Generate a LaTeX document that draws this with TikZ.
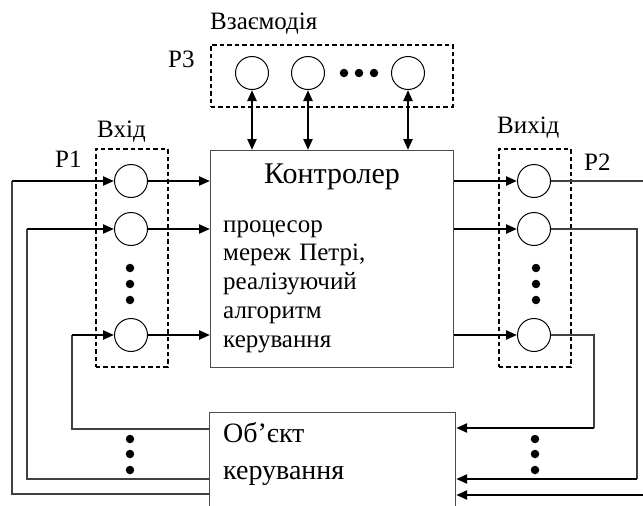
\documentclass[tikz,border=0pt]{standalone}
\usepackage{fontspec}
\setmainfont{Liberation Serif}
\usetikzlibrary{arrows.meta}
\begin{document}
\begin{tikzpicture}[x=1pt,y=-1pt,
  place/.style={circle,draw,line width=1pt,minimum size=33pt,inner sep=0pt},
  thickarrow/.style={line width=2.3pt,-{Triangle[length=11pt,width=9pt]}},
  dblarrow/.style={line width=2.3pt,{Triangle[length=11pt,width=9pt]}-{Triangle[length=11pt,width=9pt]}},
  thinline/.style={line width=1.2pt,draw=black!75},
  groupbox/.style={draw,line width=1.8pt,dash pattern=on 4.5pt off 3pt,inner sep=0pt,anchor=north west},
  blockbox/.style={draw=black!70,line width=1.2pt,inner sep=0pt,anchor=north west},
  lbl/.style={font=\fontsize{25}{28.75}\selectfont,inner sep=0pt,anchor=base west},
  dotmark/.style={circle,fill,inner sep=0pt,minimum size=8.5pt}]
\useasboundingbox (0,0) rectangle (643,506);

% blocks
\node[blockbox,minimum width=243pt,minimum height=217pt] (ctrl) at (210,150) {};
\node[blockbox,minimum width=246pt,minimum height=130pt] (obj) at (209,412) {};

% dashed groups
\node[groupbox,minimum width=72pt,minimum height=218pt] (inbox) at (95,148) {};
\node[groupbox,minimum width=72pt,minimum height=218pt] (outbox) at (498,148) {};
\node[groupbox,minimum width=242pt,minimum height=62pt] (p3box) at (210,44) {};

% places
\node[place] (i1) at (131,181) {};
\node[place] (i2) at (131,229) {};
\node[place] (i3) at (131,335) {};
\node[place] (o1) at (534,181) {};
\node[place] (o2) at (534,229) {};
\node[place] (o3) at (534,335) {};
\node[place] (p1) at (252,73) {};
\node[place] (p2) at (308,73) {};
\node[place] (p3) at (408,73) {};

% dots
\foreach \y [count=\k] in {268,284,300} {
  \node[dotmark] (di\k) at (130,\y) {};
  \node[dotmark] (do\k) at (536,\y) {};
}
\foreach \x [count=\k] in {344,359,374} {
  \node[dotmark] (dp\k) at (\x,73) {};
}
\foreach \y [count=\k] in {439,454,470} {
  \node[dotmark] (dl\k) at (130,\y) {};
  \node[dotmark] (dr\k) at (535,\y) {};
}

% inputs to controller
\draw[thickarrow] (i1) -- (ctrl.west |- i1);
\draw[thickarrow] (i2) -- (ctrl.west |- i2);
\draw[thickarrow] (i3) -- (ctrl.west |- i3);
% controller to outputs
\draw[thickarrow] (ctrl.east |- o1) -- (o1);
\draw[thickarrow] (ctrl.east |- o2) -- (o2);
\draw[thickarrow] (ctrl.east |- o3) -- (o3);
% interaction
\draw[dblarrow] (p1) -- (ctrl.north -| p1);
\draw[dblarrow] (p2) -- (ctrl.north -| p2);
\draw[dblarrow] (p3) -- (ctrl.north -| p3);

% left feedback
\coordinate (l1) at (12,181);  \coordinate (l1b) at (12,494);
\coordinate (l2) at (27,229);  \coordinate (l2b) at (27,479);
\coordinate (l3) at (72,335);  \coordinate (l3b) at (72,429);
\draw[thinline] (obj.west |- l1b) -- (l1b) -- (l1);
\draw[thinline] (obj.west |- l2b) -- (l2b) -- (l2);
\draw[thinline] (obj.west |- l3b) -- (l3b) -- (l3);
\draw[thickarrow] (l1) -- (i1);
\draw[thickarrow] (l2) -- (i2);
\draw[thickarrow] (l3) -- (i3);

% right feedback
\coordinate (r1) at (660,181); \coordinate (r1b) at (660,495);
\coordinate (r2) at (637,229); \coordinate (r2b) at (637,479);
\coordinate (r3) at (594,335); \coordinate (r3b) at (594,428);
\draw[thinline] (o1) -- (r1) -- (r1b);
\draw[thinline] (o2) -- (r2) -- (r2b);
\draw[thinline] (o3) -- (r3) -- (r3b);
\draw[thickarrow] (r1b) -- (obj.east |- r1b);
\draw[thickarrow] (r2b) -- (obj.east |- r2b);
\draw[thickarrow] (r3b) -- (obj.east |- r3b);

% labels
\node[lbl] (tint) at (210,30) {Взаємодія};
\node[lbl] (tp3) at (168,67) {P3};
\node[lbl] (tin) at (97,137) {Вхід};
\node[lbl] (tp1) at (55,167) {P1};
\node[lbl] (tout) at (497,133) {Вихід};
\node[lbl] (tp2) at (584,170) {P2};
\node[lbl,anchor=base,font=\fontsize{30}{34}\selectfont] (tctrl) at (332,183) {Контролер};
\node[lbl,text width=225pt,align=left] (tproc) at (223,232)
  {процесор\\мереж Петрі,\\реалізуючий\\алгоритм\\керування};
\node[lbl,font=\fontsize{28}{34}\selectfont] (tobj1) at (223,442) {Об’єкт};
\node[lbl,font=\fontsize{28}{34}\selectfont] (tobj2) at (223,479) {керування};
\end{tikzpicture}
\end{document}
